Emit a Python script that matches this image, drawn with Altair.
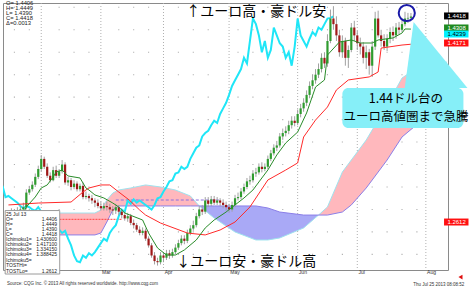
import altair as alt
import pandas as pd

# trading-day index: 0 = 1 Feb 2013, first candle = 18 Jan 2013
FIRST_IDX = -11
OPEN = [1.2640, 1.2660, 1.2680, 1.2650, 1.2690, 1.2700, 1.2720, 1.2850, 1.2880, 1.2920, 1.2990,
        1.3060,
        1.3150, 1.3080, 1.3000, 1.2960, 1.3050, 1.3000, 1.3040, 1.3100, 1.2940, 1.2960,
        1.2900, 1.2930, 1.2880, 1.2910, 1.2810, 1.2820, 1.2800, 1.2780, 1.2760, 1.2730,
        1.2710, 1.2730, 1.2720, 1.2700, 1.2690, 1.2720, 1.2680, 1.2650, 1.2620, 1.2640,
        1.2580, 1.2560, 1.2520, 1.2490, 1.2510, 1.2440, 1.2380, 1.2290, 1.2240, 1.2230,
        1.2290, 1.2270, 1.2310, 1.2290, 1.2320, 1.2360, 1.2400, 1.2440, 1.2420, 1.2490,
        1.2530, 1.2560, 1.2640, 1.2700, 1.2680, 1.2780, 1.2750, 1.2790, 1.2760, 1.2780,
        1.2760, 1.2740, 1.2720, 1.2700, 1.2740, 1.2800, 1.2810, 1.2860, 1.2900, 1.2950,
        1.2960, 1.3020, 1.3030, 1.3080, 1.3060, 1.3080, 1.3150, 1.3200, 1.3250, 1.3270,
        1.3350, 1.3380, 1.3400, 1.3450, 1.3490, 1.3470, 1.3550, 1.3600, 1.3650, 1.3720,
        1.3800, 1.3850, 1.3900, 1.3950, 1.4050, 1.4000, 1.4200, 1.4400, 1.4350, 1.4250,
        1.4100, 1.4200, 1.4050, 1.4120, 1.4320, 1.4250, 1.4180, 1.4150, 1.4050, 1.4100,
        1.3980, 1.4150, 1.4400, 1.4250, 1.4200, 1.4150, 1.4220, 1.4280, 1.4250, 1.4320,
        1.4300, 1.4350, 1.4400, 1.4406]
HIGH = [1.2690, 1.2710, 1.2700, 1.2720, 1.2730, 1.2760, 1.2880, 1.2910, 1.2950, 1.3020, 1.3090,
        1.3185,
        1.3170, 1.3110, 1.3030, 1.3080, 1.3090, 1.3060, 1.3140, 1.3120, 1.2990, 1.2980,
        1.2960, 1.2950, 1.2930, 1.2940, 1.2860, 1.2840, 1.2830, 1.2800, 1.2790, 1.2770,
        1.2760, 1.2770, 1.2750, 1.2730, 1.2750, 1.2740, 1.2700, 1.2680, 1.2670, 1.2660,
        1.2610, 1.2580, 1.2550, 1.2540, 1.2530, 1.2460, 1.2400, 1.2320, 1.2270, 1.2320,
        1.2320, 1.2340, 1.2340, 1.2350, 1.2390, 1.2430, 1.2470, 1.2470, 1.2520, 1.2560,
        1.2600, 1.2670, 1.2730, 1.2740, 1.2810, 1.2810, 1.2820, 1.2820, 1.2810, 1.2800,
        1.2790, 1.2770, 1.2750, 1.2770, 1.2830, 1.2850, 1.2890, 1.2930, 1.2980, 1.3000,
        1.3050, 1.3070, 1.3110, 1.3120, 1.3110, 1.3180, 1.3230, 1.3280, 1.3310, 1.3380,
        1.3420, 1.3440, 1.3490, 1.3530, 1.3530, 1.3590, 1.3640, 1.3690, 1.3760, 1.3840,
        1.3900, 1.3950, 1.4000, 1.4090, 1.4100, 1.4260, 1.4480, 1.4510, 1.4420, 1.4300,
        1.4250, 1.4230, 1.4160, 1.4360, 1.4380, 1.4290, 1.4230, 1.4190, 1.4160, 1.4130,
        1.4200, 1.4460, 1.4470, 1.4300, 1.4260, 1.4260, 1.4320, 1.4330, 1.4360, 1.4370,
        1.4390, 1.4460, 1.4450, 1.4449]
LOW = [1.2620, 1.2640, 1.2630, 1.2640, 1.2670, 1.2680, 1.2700, 1.2830, 1.2860, 1.2900, 1.2970,
       1.3040,
       1.3060, 1.2980, 1.2940, 1.2950, 1.2980, 1.2980, 1.3020, 1.2920, 1.2910, 1.2870,
       1.2880, 1.2860, 1.2860, 1.2790, 1.2790, 1.2770, 1.2750, 1.2720, 1.2710, 1.2690,
       1.2690, 1.2690, 1.2670, 1.2650, 1.2660, 1.2650, 1.2620, 1.2600, 1.2590, 1.2560,
       1.2530, 1.2500, 1.2470, 1.2470, 1.2420, 1.2360, 1.2270, 1.2210, 1.2200, 1.2210,
       1.2230, 1.2250, 1.2260, 1.2270, 1.2300, 1.2340, 1.2380, 1.2390, 1.2400, 1.2470,
       1.2510, 1.2540, 1.2620, 1.2650, 1.2660, 1.2720, 1.2730, 1.2740, 1.2740, 1.2730,
       1.2710, 1.2690, 1.2670, 1.2680, 1.2720, 1.2780, 1.2790, 1.2840, 1.2880, 1.2920,
       1.2940, 1.2990, 1.3010, 1.3030, 1.3040, 1.3060, 1.3130, 1.3180, 1.3220, 1.3250,
       1.3320, 1.3350, 1.3370, 1.3420, 1.3440, 1.3450, 1.3520, 1.3570, 1.3620, 1.3690,
       1.3770, 1.3820, 1.3870, 1.3920, 1.3960, 1.3970, 1.4180, 1.4300, 1.4200, 1.4060,
       1.4050, 1.3980, 1.3960, 1.4100, 1.4200, 1.4120, 1.4080, 1.4000, 1.3950, 1.3900,
       1.3880, 1.4120, 1.4230, 1.4150, 1.4120, 1.4110, 1.4180, 1.4200, 1.4220, 1.4260,
       1.4280, 1.4330, 1.4360, 1.4390]
CLOSE = [1.2660, 1.2680, 1.2650, 1.2690, 1.2700, 1.2720, 1.2850, 1.2880, 1.2920, 1.2990, 1.3060,
         1.3150,
         1.3080, 1.3000, 1.2960, 1.3050, 1.3000, 1.3040, 1.3100, 1.2940, 1.2960, 1.2900,
         1.2930, 1.2880, 1.2910, 1.2810, 1.2820, 1.2800, 1.2780, 1.2760, 1.2730, 1.2710,
         1.2730, 1.2720, 1.2700, 1.2690, 1.2720, 1.2680, 1.2650, 1.2620, 1.2640, 1.2580,
         1.2560, 1.2520, 1.2490, 1.2510, 1.2440, 1.2380, 1.2290, 1.2240, 1.2230, 1.2290,
         1.2270, 1.2310, 1.2290, 1.2320, 1.2360, 1.2400, 1.2440, 1.2420, 1.2490, 1.2530,
         1.2560, 1.2640, 1.2700, 1.2680, 1.2780, 1.2750, 1.2790, 1.2760, 1.2780, 1.2760,
         1.2740, 1.2720, 1.2700, 1.2740, 1.2800, 1.2810, 1.2860, 1.2900, 1.2950, 1.2960,
         1.3020, 1.3030, 1.3080, 1.3060, 1.3080, 1.3150, 1.3200, 1.3250, 1.3270, 1.3350,
         1.3380, 1.3400, 1.3450, 1.3490, 1.3470, 1.3550, 1.3600, 1.3650, 1.3720, 1.3800,
         1.3850, 1.3900, 1.3950, 1.4050, 1.4000, 1.4200, 1.4400, 1.4350, 1.4250, 1.4100,
         1.4200, 1.4050, 1.4120, 1.4320, 1.4250, 1.4180, 1.4150, 1.4050, 1.4100, 1.3980,
         1.4150, 1.4400, 1.4250, 1.4200, 1.4150, 1.4220, 1.4280, 1.4250, 1.4320, 1.4300,
         1.4350, 1.4400, 1.4406, 1.4418]

TENKAN_IDX = [-11, -6, -5, -2, 0, 2, 4, 5, 7, 9, 13, 15, 16, 18, 21, 24, 26, 28, 34, 36, 39,
              42, 45, 48, 52, 55, 58, 62, 65, 68, 71, 74, 76, 79, 82, 86, 89, 92, 95, 96, 100,
              104, 107, 111, 113, 118, 121, 122, 124]
TENKAN = [1.2650, 1.2668, 1.2722, 1.2811, 1.2891, 1.2918, 1.2989, 1.3033, 1.3051, 1.2998,
          1.2980, 1.2891, 1.2873, 1.2829, 1.2802, 1.2757, 1.2722, 1.2668, 1.2606, 1.2490,
          1.2357, 1.2294, 1.2294, 1.2339, 1.2428, 1.2535, 1.2606, 1.2677, 1.2740, 1.2802,
          1.2873, 1.2980, 1.3051, 1.3185, 1.3292, 1.3389, 1.3559, 1.3790, 1.3853, 1.4075,
          1.4191, 1.4209, 1.4182, 1.4182, 1.4209, 1.4227, 1.4271, 1.4307, 1.4306]
KIJUN_IDX = [-11, -1, 10, 14, 16, 20, 23, 26, 29.5, 33, 35, 40, 49, 55, 60, 65, 70, 76, 82,
             86, 88, 92, 96, 99, 103, 110, 113, 114, 121, 124]
KIJUN = [1.2740, 1.2757, 1.2766, 1.2855, 1.2891, 1.2918, 1.2918, 1.2855, 1.2784, 1.2695,
         1.2650, 1.2579, 1.2490, 1.2473, 1.2517, 1.2588, 1.2722, 1.2962, 1.3051, 1.3114,
         1.3345, 1.3496, 1.3612, 1.3764, 1.3853, 1.3880, 1.3924, 1.4137, 1.4164, 1.4171]
CLOUD_IDX = [-12, -5, 6, 18, 20, 22, 24, 26, 30, 35, 40, 45, 50, 53, 58, 65, 72, 76, 80, 88,
             93, 96, 101, 104, 109, 111, 116, 121, 125, 128, 136]
SPAN_A = [1.2650, 1.2659, 1.2668, 1.2668, 1.2695, 1.2784, 1.2846, 1.2873, 1.2891, 1.2918,
          1.2900, 1.2873, 1.2820, 1.2731, 1.2624, 1.2499, 1.2428, 1.2428, 1.2446, 1.2535,
          1.2650, 1.2722, 1.3033, 1.3140, 1.3318, 1.3407, 1.3630, 1.3870, 1.3942, 1.3960,
          1.4013]
SPAN_B = [1.2428, 1.2446, 1.2473, 1.2473, 1.2490, 1.2588, 1.2695, 1.2731, 1.2731, 1.2731,
          1.2731, 1.2731, 1.2731, 1.2731, 1.2731, 1.2731, 1.2731, 1.2713, 1.2677, 1.2650,
          1.2650, 1.2650, 1.2677, 1.2740, 1.2891, 1.2962, 1.3140, 1.3345, 1.3434, 1.3496,
          1.3585]
CHIKOU_SHIFT = 26
LOW_MARK = 1.2612
MID_MARK = 1.2784

Y_TICKS = [1.22, 1.24, 1.26, 1.28, 1.30, 1.32, 1.34, 1.36, 1.38, 1.40, 1.42, 1.44]
X_TICK_IDX = [-9, -4, 0, 6, 11, 16, 20, 26, 31, 36, 41, 46, 51, 56, 63, 66, 71, 76, 81, 86,
              91, 96, 101, 106, 111, 116, 121, 126, 129]
X_TICK_LBL = ['21', '28', '01', '11', '18', '25', '01', '11', '18', '25', '01', '08', '15',
              '22', '01', '06', '13', '20', '27', '03', '10', '17', '24', '01', '08', '15',
              '22', '29', '01']
MONTH_IDX = [0, 20, 41, 63, 86, 106, 129]
MONTH_LBL_IDX = [20, 41, 63, 86, 106, 129]
MONTH_LBL = ['Mar', 'Apr', 'May', 'Jun', 'Jul', 'Aug']
DOT_LEVELS = [1.23, 1.25, 1.27, 1.29, 1.31, 1.33, 1.35, 1.37, 1.39, 1.41, 1.43, 1.45]

TAG_VALUES = ['1.4418', '1.4308', '1.4239', '1.4171', '1.2612']
TAG_POS = [1.4423, 1.4316, 1.4262, 1.4182, 1.2588]
TAG_FILL = ['#000000', '#1f8a1f', '#00f0ff', '#ff1010', '#ff1010']
TAG_TEXT = ['#ffffff', '#ffffff', '#000000', '#ffffff', '#ffffff']

INFO_LINES = ['O= 1.4406', 'H= 1.4449', 'L= 1.4390', 'C= 1.4418', 'Δ=0.0013']
INFO_POS = [1.4534, 1.4491, 1.4447, 1.4403, 1.4358]
BOX_LABELS = ['25 Jul 13', 'O=', 'H=', 'L=', 'C=', 'Ichimoku1=', 'Ichimoku2=', 'Ichimoku3=',
              'Ichimoku4=', 'Ichimoku5=', 'TOSTHi=', 'TOSTLo=']
BOX_VALUES = ['', '1.4406', '1.4449', '1.4390', '1.4418', '1.430600', '1.417100', '1.334150',
              '1.388425', '', '', '1.2612']
BOX_POS = [1.2662, 1.2612, 1.2568, 1.2524, 1.2480, 1.2435, 1.2391, 1.2346, 1.2302, 1.2250,
           1.2205, 1.2155]

XS = alt.Scale(domain=[-11.15, 134.75], nice=False, zero=False)
YS = alt.Scale(domain=[1.21607, 1.45383], nice=False, zero=False)
FONT = 'Liberation Sans'
JP = 'Noto Sans CJK JP'


def X(f='i'):
    return alt.X(f + ':Q', scale=XS, axis=None)


def Y(f='v'):
    return alt.Y(f + ':Q', scale=YS, axis=None)


n = len(CLOSE)
idx = list(range(FIRST_IDX, FIRST_IDX + n))
cdf = pd.DataFrame({'i': idx, 'open': OPEN, 'high': HIGH, 'low': LOW, 'close': CLOSE})
cdf['up'] = cdf['close'] >= cdf['open']

chk = pd.DataFrame({'i': [i - CHIKOU_SHIFT for i in idx], 'v': CLOSE})
chk = chk[chk['i'] >= -13]

cloud = pd.DataFrame({'i': CLOUD_IDX, 'a': SPAN_A, 'b': SPAN_B})
cloud['top'] = cloud[['a', 'b']].max(axis=1)

label_expr = ("[" + ",".join("'%s'" % s for s in X_TICK_LBL) + "][indexof(["
              + ",".join(str(v) for v in X_TICK_IDX) + "], datum.value)]")

axes = alt.Chart(pd.DataFrame({'i': [0], 'v': [1.3]})).mark_point(opacity=0).encode(
    x=alt.X('i:Q', scale=XS, axis=alt.Axis(
        orient='bottom', values=X_TICK_IDX, labelExpr=label_expr, title=None, grid=False,
        labelFont=FONT, labelFontSize=6, labelColor='#333', labelAlign='left',
        labelBaseline='top', labelPadding=-6, tickSize=9, tickColor='#777',
        domainColor='#777', labelOverlap=False, labelBound=False, labelFlush=False)),
    y=alt.Y('v:Q', scale=YS, axis=alt.Axis(
        orient='right', values=Y_TICKS, format='.4f', title=None, grid=True,
        gridDash=[1, 2], gridColor='#b5b5b5', ticks=False, labelPadding=5,
        labelFont=FONT, labelFontSize=6.3, labelColor='#444', domainColor='#777',
        labelOverlap=False, labelBound=False, labelFlush=False)),
)

month_rules = alt.Chart(pd.DataFrame({'i': MONTH_IDX})).mark_rule(
    color='#b0b0b0', strokeDash=[1, 2]).encode(x=X())

dots = alt.Chart(pd.DataFrame([(i, v) for i in X_TICK_IDX if i not in MONTH_IDX
                               for v in DOT_LEVELS], columns=['i', 'v'])).mark_square(
    size=1.2, color='#999', opacity=0.8, clip=True).encode(x=X(), y=Y())

pink = alt.Chart(cloud).mark_area(color='#ffb8bd', opacity=1, clip=True).encode(
    x=X(), y=Y('top'), y2='b:Q')
blue = alt.Chart(cloud).mark_area(color='#a9a9f6', opacity=1, clip=True).encode(
    x=X(), y=Y('top'), y2='a:Q')
span_a = alt.Chart(cloud).mark_line(color='#9fe3ee', strokeWidth=1, clip=True).encode(
    x=X(), y=Y('a'))
span_b = alt.Chart(cloud).mark_line(color='#8b7fe8', strokeWidth=1, clip=True).encode(
    x=X(), y=Y('b'))

low_line = alt.Chart(pd.DataFrame({'i': [-12], 'i2': [27], 'v': [LOW_MARK]})).mark_rule(
    color='#ff4040', strokeDash=[2, 1], strokeWidth=1, clip=True).encode(
    x=X(), x2='i2:Q', y=Y())
mid_line = alt.Chart(pd.DataFrame({'i': [25], 'i2': [60], 'v': [MID_MARK]})).mark_rule(
    color='#8a6ee0', strokeDash=[3, 2], strokeWidth=1, clip=True).encode(
    x=X(), x2='i2:Q', y=Y())

chikou = alt.Chart(chk).mark_line(color='#1fe6f7', strokeWidth=2, clip=True).encode(
    x=X(), y=Y())

wick = alt.Chart(cdf).mark_rule(color='#a0a0a0', strokeWidth=1, clip=True).encode(
    x=X(), y=Y('low'), y2='high:Q')
body = alt.Chart(cdf).mark_bar(size=2.2, clip=True).encode(
    x=X(), y=Y('open'), y2='close:Q',
    color=alt.condition('datum.up', alt.value('#2f9c2f'), alt.value('#a01818')))

kijun = alt.Chart(pd.DataFrame({'i': KIJUN_IDX, 'v': KIJUN})).mark_line(
    color='#ff2a2a', strokeWidth=1, clip=True).encode(x=X(), y=Y())
tenkan = alt.Chart(pd.DataFrame({'i': TENKAN_IDX, 'v': TENKAN})).mark_line(
    color='#2a8c2a', strokeWidth=1, clip=True).encode(x=X(), y=Y())

top_txt = alt.Chart(pd.DataFrame({'i': [48.6], 'v': [1.4462], 't': ['↑ユーロ高・豪ドル安']})).mark_text(
    font=JP, fontSize=14, align='left', baseline='middle', color='#000').encode(
    x=X(), y=Y(), text='t:N')
bot_txt = alt.Chart(pd.DataFrame({'i': [45.3], 'v': [1.2236], 't': ['↓ユーロ安・豪ドル高']})).mark_text(
    font=JP, fontSize=14, align='left', baseline='middle', color='#000').encode(
    x=X(), y=Y(), text='t:N')

pointer = alt.Chart(pd.DataFrame({'i': [121.9, 124.9, 142.95],
                                  'v': [1.3781, 1.4369, 1.3781],
                                  'b': [1.3781, 1.3781, 1.3781]})).mark_area(
    color='#86eff8', opacity=1).encode(x=X(), y=Y(), y2='b:Q')
callout = alt.Chart(pd.DataFrame({'i': [101.0], 'i2': [141.6], 'v': [1.3781], 'v2': [1.3425]})).mark_rect(
    color='#86eff8', cornerRadius=6).encode(x=X(), x2='i2:Q', y=Y(), y2='v2:Q')
call_txt = alt.Chart(pd.DataFrame({'i': [122.3, 122.3], 'v': [1.3682, 1.3523],
                                   't': ['1.44ドル台の', 'ユーロ高値圏まで急騰']})).mark_text(
    font=JP, fontSize=12.5, align='center', baseline='middle', color='#000').encode(
    x=X(), y=Y(), text='t:N')
ring = alt.Chart(pd.DataFrame({'i': [122.6], 'v': [1.4449]})).mark_point(
    shape='circle', size=260, filled=False, color='#1a1aa8', strokeWidth=2, opacity=1).encode(
    x=X(), y=Y())

tags = pd.DataFrame({'v': TAG_POS, 't': TAG_VALUES, 'f': TAG_FILL, 'c': TAG_TEXT})
tags['lo'] = tags['v'] - 0.0031
tags['hi'] = tags['v'] + 0.0031
tags['i'] = 135.1
tags['i2'] = 143.3
tags['ic'] = 139.3
tag_rect = alt.Chart(tags).mark_rect().encode(
    x=X(), x2='i2:Q', y=Y('lo'), y2='hi:Q', color=alt.Color('f:N', scale=None))
tag_txt = alt.Chart(tags).mark_text(font=FONT, fontSize=6, align='center', baseline='middle').encode(
    x=X('ic'), y=Y(), text='t:N', color=alt.Color('c:N', scale=None))

info = alt.Chart(pd.DataFrame({'i': [-11.8] * 5, 'v': INFO_POS, 't': INFO_LINES})).mark_text(
    font=FONT, fontSize=5.8, align='left', baseline='middle', color='#222').encode(
    x=X(), y=Y(), text='t:N')

box = alt.Chart(pd.DataFrame({'i': [-12.1], 'i2': [6.2], 'v': [1.2690], 'v2': [1.2125]})).mark_rect(
    fill='#ffffff', stroke='#9a9a9a', strokeWidth=1).encode(x=X(), x2='i2:Q', y=Y(), y2='v2:Q')
box_l = alt.Chart(pd.DataFrame({'i': [-11.8] * 12, 'v': BOX_POS, 't': BOX_LABELS})).mark_text(
    font=FONT, fontSize=5, align='left', baseline='middle', color='#222').encode(
    x=X(), y=Y(), text='t:N')
box_v = alt.Chart(pd.DataFrame({'i': [5.3] * 12, 'v': BOX_POS, 't': BOX_VALUES})).mark_text(
    font=FONT, fontSize=5, align='right', baseline='middle', color='#222').encode(
    x=X(), y=Y(), text='t:N')

months = alt.Chart(pd.DataFrame({'i': [m + 0.4 for m in MONTH_LBL_IDX], 'v': [1.2147] * 6,
                                 't': MONTH_LBL})).mark_text(
    font=FONT, fontSize=5, align='left', baseline='middle', color='#333').encode(
    x=X(), y=Y(), text='t:N')

source = alt.Chart(pd.DataFrame({'i': [-11.5], 'v': [1.2036],
                                 't': ['Source: CQG Inc. © 2013 All rights reserved worldwide.  http://www.cqg.com']})).mark_text(
    font=FONT, fontSize=4.5, align='left', baseline='middle', color='#333').encode(
    x=X(), y=Y(), text='t:N')
stamp = alt.Chart(pd.DataFrame({'i': [141.9], 'v': [1.2027], 't': ['Thu Jul 25 2013 08:08:52']})).mark_text(
    font=FONT, fontSize=4.5, align='right', baseline='middle', color='#333').encode(
    x=X(), y=Y(), text='t:N')
arrow = alt.Chart(pd.DataFrame({'i': [140.6], 'v': [1.2098]})).mark_point(
    shape='triangle-left', filled=True, size=22, color='#e01010', opacity=1).encode(x=X(), y=Y())

chart = alt.layer(
    axes, month_rules, dots, pink, blue, span_a, span_b, low_line, mid_line, chikou,
    wick, body, kijun, tenkan, top_txt, bot_txt, pointer, callout, call_txt, ring,
    tag_rect, tag_txt, info, months, box, box_l, box_v, source, stamp, arrow
).properties(
    width=445, height=267, autosize='none',
    padding={'left': 3, 'top': 3, 'right': 26, 'bottom': 19},
    background='#ffffff'
).configure_view(stroke='#8a8a8a', strokeWidth=1)

chart.save('out.html', embed_options={'renderer': 'svg', 'actions': False})
